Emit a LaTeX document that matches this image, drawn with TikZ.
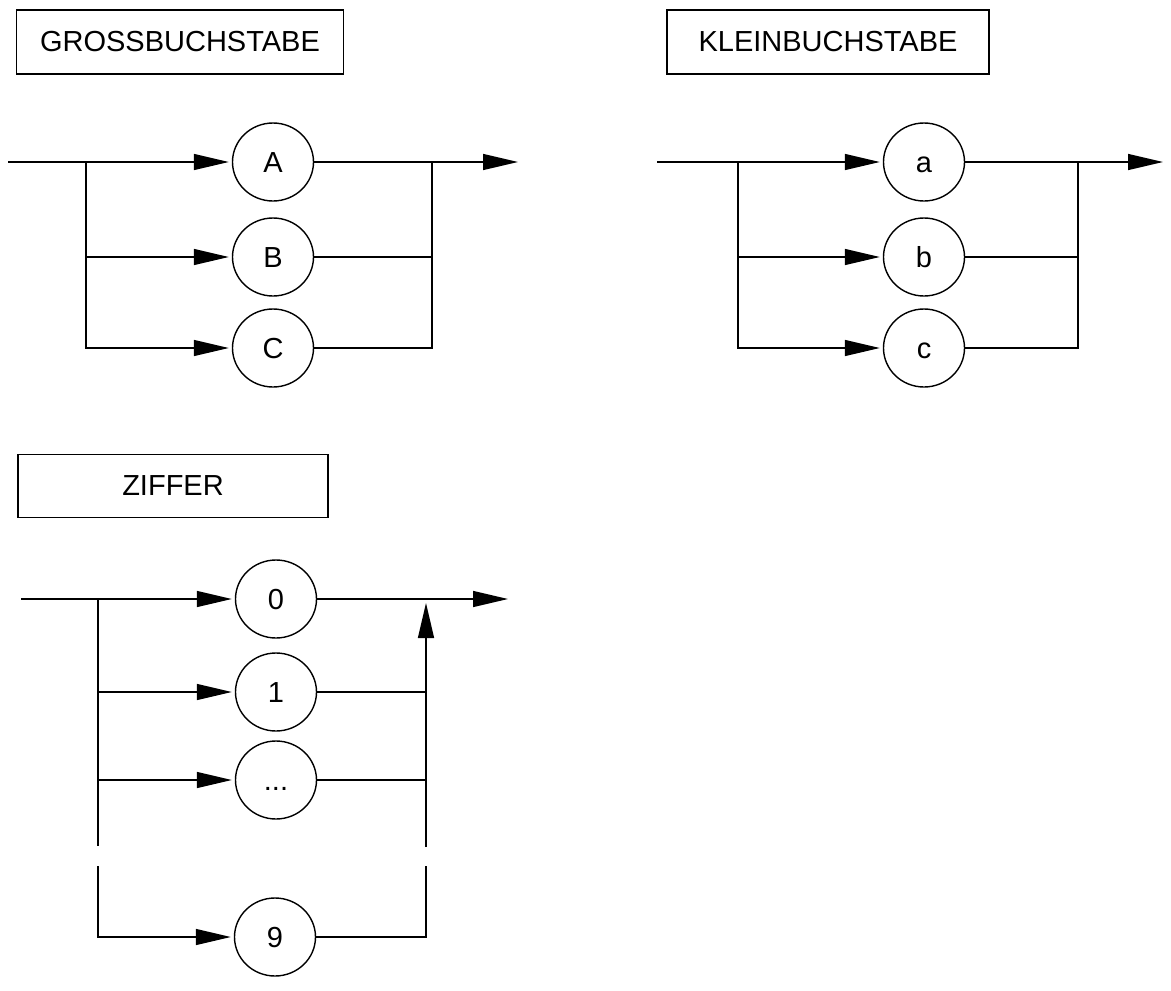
\documentclass[tikz,border=0pt]{standalone}
\usepackage{fontspec}
\setmainfont{Liberation Sans}
\usetikzlibrary{calc}
\usetikzlibrary{arrows}
\usetikzlibrary{arrows.meta}
\usetikzlibrary{shapes}
\usetikzlibrary{positioning}
\usetikzlibrary{shapes.geometric}
\tikzset{>={Triangle[length=35pt,width=16pt]}}
\tikzstyle{title} = [rectangle, draw=black, line width=1.4pt, minimum height=64pt, inner sep=0pt]
\tikzstyle{term} = [ellipse, draw=black, line width=1.4pt, minimum width=81pt, minimum height=78pt, inner sep=0pt, text height=21pt, text depth=0pt]
\tikzstyle{flow} = [draw=black, line width=1.4pt]
\tikzstyle{into} = [->, flow, shorten >=3pt]

\begin{document}
\begin{tikzpicture}[x=1pt, y=-1pt, font=\fontsize{29pt}{34pt}\selectfont]
\useasboundingbox (0, 0) rectangle (1171, 991);
% GROSSBUCHSTABE
\node [title, minimum width=327pt] (GB) at (180, 42) {GROSSBUCHSTABE};
\node [term] (A) at (273, 162) {A};
\node [term] (B) at (273, 257) {B};
\node [term] (C) at (273, 348) {C};
\coordinate (GBin) at (8, 162);
\coordinate (GBsplit) at (86, 162);
\coordinate (GBjoin) at (432, 162);
\coordinate (GBout) at (518, 162);
\draw [flow] (GBin) -- (GBsplit);
\draw [into] (GBsplit) -- (A);
\draw [into] (GBsplit) |- (B);
\draw [into] (GBsplit) |- (C);
\draw [flow] (B) -| (GBjoin);
\draw [flow] (C) -| (GBjoin);
\draw [->, flow] (A) -- (GBout);
% KLEINBUCHSTABE
\node [title, minimum width=322pt] (KB) at (828, 42) {KLEINBUCHSTABE};
\node [term] (a) at (924, 162) {a};
\node [term] (b) at (924, 257) {b};
\node [term] (c) at (924, 348) {c};
\coordinate (KBin) at (657, 162);
\coordinate (KBsplit) at (738, 162);
\coordinate (KBjoin) at (1078, 162);
\coordinate (KBout) at (1163, 162);
\draw [flow] (KBin) -- (KBsplit);
\draw [into] (KBsplit) -- (a);
\draw [into] (KBsplit) |- (b);
\draw [into] (KBsplit) |- (c);
\draw [flow] (b) -| (KBjoin);
\draw [flow] (c) -| (KBjoin);
\draw [->, flow] (a) -- (KBout);
% ZIFFER
\node [title, minimum width=310pt, minimum height=63pt] (Z) at (173, 486) {ZIFFER};
\node [term] (N0) at (276, 599) {0};
\node [term] (N1) at (276, 692) {1};
\node [term] (Ndots) at (276, 780) {...};
\node [term] (N9) at (275, 937) {9};
\coordinate (Zin) at (21, 599);
\coordinate (Zsplit) at (98, 599);
\coordinate (Zcut) at (98, 846);
\coordinate (Zresume) at (98, 866);
\coordinate (Zjoin) at (426, 603);
\coordinate (Zjcut) at (426, 847);
\coordinate (Zjresume) at (426, 866);
\coordinate (Zout) at (508, 599);
\draw [flow] (Zin) -- (Zsplit) -- (Zcut);
\draw [into] (Zsplit) -- (N0);
\draw [into] (Zsplit) |- (N1);
\draw [into] (Zsplit) |- (Ndots);
\draw [into] (Zresume) |- (N9);
\draw [flow] (N1) -| (Zjcut);
\draw [flow] (Ndots) -| (Zjcut);
\draw [->, flow] (Zjcut) -- (Zjoin);
\draw [flow] (N9) -| (Zjresume);
\draw [->, flow] (N0) -- (Zout);
\end{tikzpicture}
\end{document}
